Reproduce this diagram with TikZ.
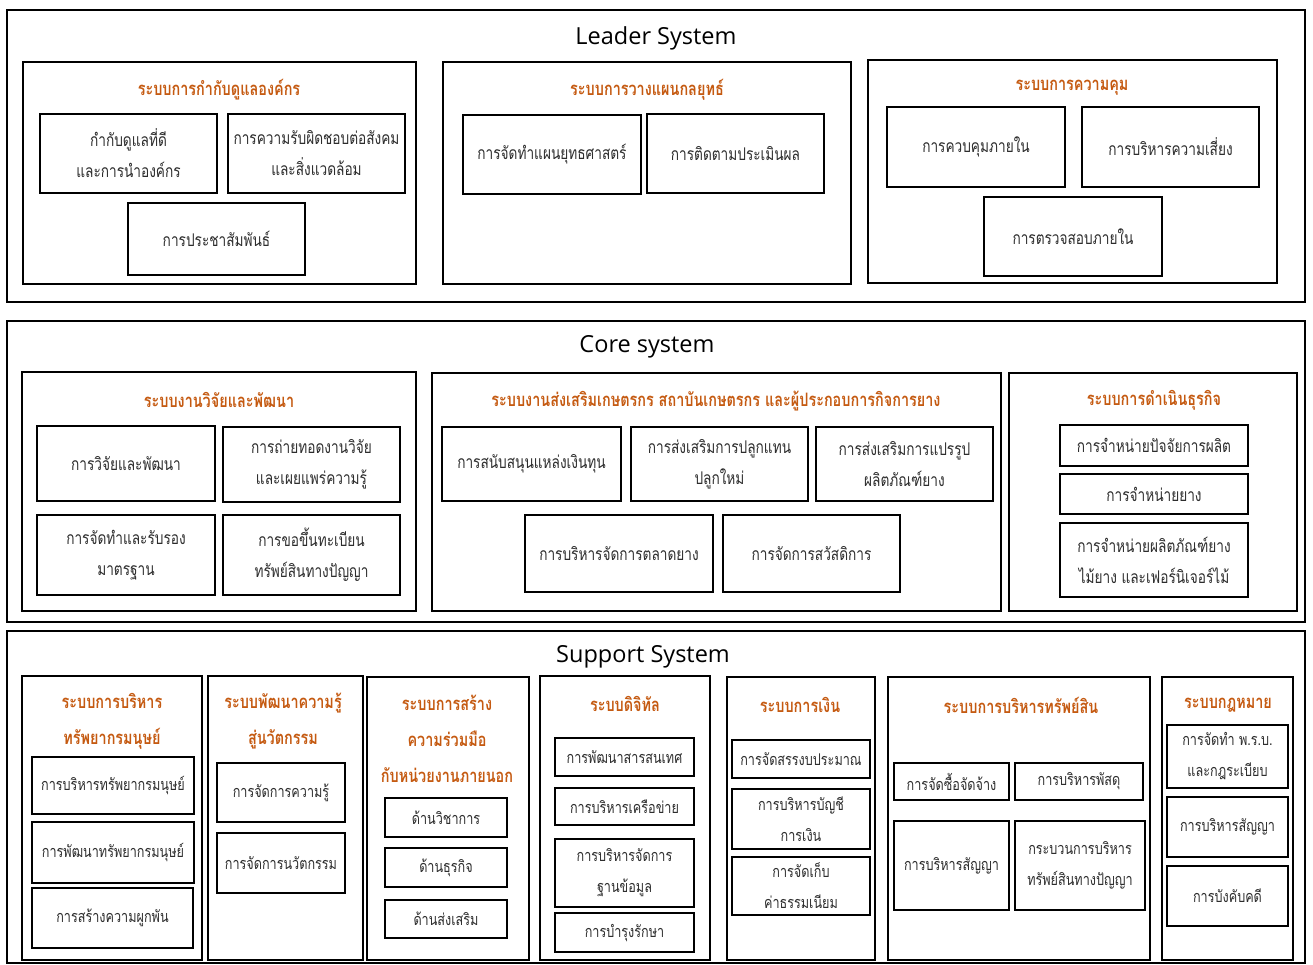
\documentclass[tikz,border=0pt]{standalone}
\usepackage{fontspec}
\setmainfont{Open Sans}
\newfontfamily\thai[Script=Thai,FakeStretch=0.78]{Loma}
\definecolor{hdr}{RGB}{197,90,17}
\definecolor{txt}{RGB}{45,45,45}
\tikzset{
  panel/.style={draw, line width=1.6pt, inner sep=0pt},
  sub/.style={draw, line width=1.6pt, inner sep=0pt},
  leaf/.style={draw, line width=2pt, align=center, inner sep=0pt, text=txt,
    font=\thai\fontsize{17.5}{31}\selectfont},
  sleaf/.style={leaf, font=\thai\fontsize{16.2}{31}\selectfont},
  hd/.style={font=\thai\bfseries\fontsize{18.5}{36}\selectfont, text=hdr, align=center, inner sep=0pt},
  ttl/.style={font=\fontsize{23.5}{28}\selectfont, inner sep=0pt}
}
\newcommand{\bx}[7][leaf]{\node[#1, minimum width={(#4-#2)*1pt}, minimum height={(#5-#3)*1pt}] (#6) at ({(#2+#4)/2},{(#3+#5)/2}) {#7};}
\begin{document}
\begin{tikzpicture}[x=1pt,y=-1pt]
\useasboundingbox[fill=white] (0,0) rectangle (1313,964);
% ---------------- Leader
\bx[panel]{7}{10}{1305}{302}{L}{}
\node[ttl] (Lt) at (656,38) {Leader System};
\bx[sub]{23}{62}{416}{284}{L1}{}
\node[hd] (L1h) at (219,90) {ระบบการกำกับดูแลองค์กร};
\bx{40}{114}{217}{193}{L1a}{กำกับดูแลที่ดี\\และการนำองค์กร}
\bx{228}{114}{405}{193}{L1b}{การความรับผิดชอบต่อสังคม\\และสิ่งแวดล้อม}
\bx{128}{203}{305}{275}{L1c}{การประชาสัมพันธ์}
\bx[sub]{443}{62}{851}{284}{L2}{}
\node[hd] (L2h) at (647,90) {ระบบการวางแผนกลยุทธ์};
\bx{463}{115}{641}{194}{L2a}{การจัดทำแผนยุทธศาสตร์}
\bx{647}{114}{824}{193}{L2b}{การติดตามประเมินผล}
\bx[sub]{868}{60}{1277}{283}{L3}{}
\node[hd] (L3h) at (1072,88) {ระบบการความคุม};
\bx{887}{107}{1065}{187}{L3a}{การควบคุมภายใน}
\bx{1082}{107}{1259}{187}{L3b}{การบริหารความเสี่ยง}
\bx{984}{197}{1162}{276}{L3c}{การตรวจสอบภายใน}
% ---------------- Core
\bx[panel]{7}{321}{1305}{622}{C}{}
\node[ttl] (Ct) at (647,347) {Core system};
\bx[sub]{22}{372}{416}{611}{C1}{}
\node[hd] (C1h) at (219,400) {ระบบงานวิจัยและพัฒนา};
\bx{37}{426}{215}{501}{C1a}{การวิจัยและพัฒนา}
\bx{223}{427}{400}{502}{C1b}{การถ่ายทอดงานวิจัย\\และเผยแพร่ความรู้}
\bx{37}{515}{215}{595}{C1c}{การจัดทำและรับรอง\\มาตรฐาน}
\bx{223}{515}{400}{595}{C1d}{การขอขึ้นทะเบียน\\ทรัพย์สินทางปัญญา}
\bx[sub]{432}{373}{1001}{611}{C2}{}
\node[hd] (C2h) at (716,401) {ระบบงานส่งเสริมเกษตรกร สถาบันเกษตรกร และผู้ประกอบการกิจการยาง};
\bx{442}{427}{621}{501}{C2a}{การสนับสนุนแหล่งเงินทุน}
\bx{631}{427}{808}{501}{C2b}{การส่งเสริมการปลูกแทน\\ปลูกใหม่}
\bx{816}{427}{993}{501}{C2c}{การส่งเสริมการแปรรูป\\ผลิตภัณฑ์ยาง}
\bx{525}{515}{713}{592}{C2d}{การบริหารจัดการตลาดยาง}
\bx{723}{515}{900}{592}{C2e}{การจัดการสวัสดิการ}
\bx[sub]{1009}{373}{1297}{611}{C3}{}
\node[hd] (C3h) at (1154,400) {ระบบการดำเนินธุรกิจ};
\bx{1060}{425}{1248}{466}{C3a}{การจำหน่ายปัจจัยการผลิต}
\bx{1060}{474}{1248}{514}{C3b}{การจำหน่ายยาง}
\bx{1060}{523}{1248}{597}{C3c}{การจำหน่ายผลิตภัณฑ์ยาง\\ไม้ยาง และเฟอร์นิเจอร์ไม้}
% ---------------- Support
\bx[panel]{7}{631}{1305}{963}{S}{}
\node[ttl] (St) at (643,657) {Support System};
\bx[sub]{22}{676}{202}{960}{S1}{}
\node[hd] (S1h) at (112,721) {ระบบการบริหาร\\ทรัพยากรมนุษย์};
\bx[sleaf]{32}{757}{194}{814}{S1a}{การบริหารทรัพยากรมนุษย์}
\bx[sleaf]{32}{822}{194}{883}{S1b}{การพัฒนาทรัพยากรมนุษย์}
\bx[sleaf]{32}{888}{193}{948}{S1c}{การสร้างความผูกพัน}
\bx[sub]{208}{676}{363}{960}{S2}{}
\node[hd] (S2h) at (283,721) {ระบบพัฒนาความรู้\\สู่นวัตกรรม};
\bx[sleaf]{217}{763}{345}{822}{S2a}{การจัดการความรู้}
\bx[sleaf]{217}{833}{345}{893}{S2b}{การจัดการนวัตกรรม}
\bx[sub]{367}{677}{529}{960}{S3}{}
\node[hd] (S3h) at (447,739) {ระบบการสร้าง\\ความร่วมมือ\\กับหน่วยงานภายนอก};
\bx[sleaf]{385}{798}{507}{837}{S3a}{ด้านวิชาการ}
\bx[sleaf]{385}{848}{507}{887}{S3b}{ด้านธุรกิจ}
\bx[sleaf]{385}{900}{507}{938}{S3c}{ด้านส่งเสริม}
\bx[sub]{540}{676}{710}{960}{S4}{}
\node[hd] (S4h) at (625,704) {ระบบดิจิทัล};
\bx[sleaf]{555}{738}{694}{776}{S4a}{การพัฒนาสารสนเทศ}
\bx[sleaf]{555}{788}{694}{825}{S4b}{การบริหารเครือข่าย}
\bx[sleaf]{555}{839}{694}{907}{S4c}{การบริหารจัดการ\\ฐานข้อมูล}
\bx[sleaf]{555}{913}{694}{952}{S4d}{การบำรุงรักษา}
\bx[sub]{727}{677}{875}{960}{S5}{}
\node[hd] (S5h) at (800,705) {ระบบการเงิน};
\bx[sleaf]{732}{740}{870}{778}{S5a}{การจัดสรรงบประมาณ}
\bx[sleaf]{732}{789}{870}{849}{S5b}{การบริหารบัญชี\\การเงิน}
\bx[sleaf]{732}{857}{870}{915}{S5c}{การจัดเก็บ\\ค่าธรรมเนียม}
\bx[sub]{888}{677}{1150}{960}{S6}{}
\node[hd] (S6h) at (1021,705) {ระบบการบริหารทรัพย์สิน};
\bx[sleaf]{894}{763}{1009}{800}{S6a}{การจัดซื้อจัดจ้าง}
\bx[sleaf]{1015}{763}{1143}{800}{S6b}{การบริหารพัสดุ}
\bx[sleaf]{894}{821}{1009}{910}{S6c}{การบริหารสัญญา}
\bx[sleaf]{1015}{821}{1145}{910}{S6d}{กระบวนการบริหาร\\ทรัพย์สินทางปัญญา}
\bx[sub]{1162}{677}{1293}{960}{S7}{}
\node[hd] (S7h) at (1228,705) {ระบบกฎหมาย};
\bx[sleaf]{1167}{725}{1288}{788}{S7a}{การจัดทำ พ.ร.บ.\\และกฎระเบียบ}
\bx[sleaf]{1167}{797}{1288}{857}{S7b}{การบริหารสัญญา}
\bx[sleaf]{1167}{866}{1288}{926}{S7c}{การบังคับคดี}
\end{tikzpicture}
\end{document}
